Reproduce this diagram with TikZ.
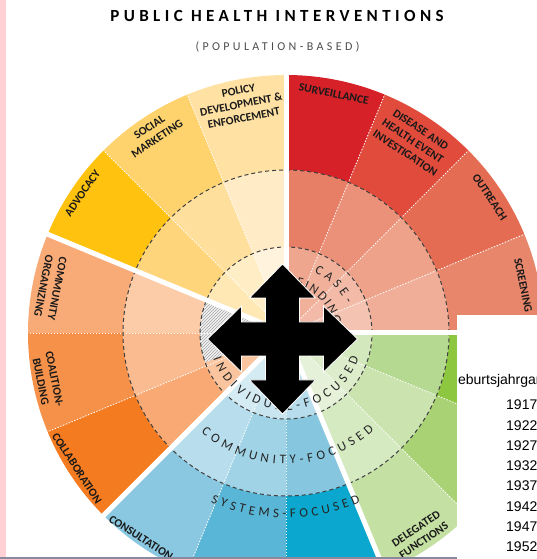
\documentclass[tikz,border=0pt]{standalone}
\usepackage{fontspec}
\setmainfont{Carlito}
\newfontfamily\tracked[LetterSpace=26]{Carlito}
\newfontfamily\widetracked[LetterSpace=28]{Carlito}
\newfontfamily\tablefont{Liberation Sans}
\usetikzlibrary{decorations.text,patterns}
\definecolor{screenedge}{HTML}{8A8A9E}
\definecolor{screenpink}{HTML}{FFD0D4}

\tikzset{
  seglabel/.style={font=\fontsize{11.5}{14}\selectfont\bfseries, text=black!90, align=center, inner sep=0pt},
  ringlabel/.style={decorate, decoration={text along path, text align={fit to path}, text color=black!85,
      text={|\fontsize{13}{15}\selectfont|#1}}},
  groupgap/.style={white, line width=5pt},
  wedgedots/.style={white, line width=0.9pt, dash pattern=on 1.2pt off 1.8pt},
  ringline/.style={black!75, line width=1pt, dash pattern=on 4pt off 3pt},
  yearrow/.style={font=\tablefont\fontsize{14}{16}\selectfont, anchor=base west, inner sep=0pt},
}

\begin{document}
\begin{tikzpicture}[x=1pt,y=1pt]
  \useasboundingbox (-286,-226) rectangle (251,333);
  \clip (-286,-226) rectangle (251,333);

  % title
  \node (title) at (-9,317) {\tracked\bfseries\fontsize{17}{20}\selectfont PUBLIC HEALTH INTERVENTIONS};
  \node (subtitle) at (-8.5,286) {\widetracked\fontsize{12}{14}\selectfont\color{black!70}(POPULATION-BASED)};

  % wedges: start angle / outer / middle / inner colour
  \foreach \a/\co/\cm/\ci in {90/D62128/E67F66/EFA68F, 67.5/E04B3B/EB9179/F1B09A,
      45/E46C52/EEA28A/F3BBA7, 22.5/E8866C/F0AE98/F4C3B1,
      0/8DC63F/B5D990/D3E8BC, -22.5/A8D274/CAE3AF/DDEDCC, -45/C4E0A2/D6EAC2/E5F1D8,
      -67.5/0BA7CE/86C7DF/B7DDEC, -90/5AB6D6/A0D3E6/C8E5F0, -112.5/89C8E0/B8DDEC/D4EBF4,
      225/F47B20/F9AA74/FAC59E, 202.5/F6914A/FABB90/FAC59E, 180/F8AA77/FCCBA7/FCD3B5,
      157.5/FFC20E/FED57A/FFE8B4, 135/FED36E/FFDF9C/FFEDC6, 112.5/FFE2A3/FFEBC5/FFF3DD}{
    \definecolor{outerc}{HTML}{\co}
    \definecolor{middlec}{HTML}{\cm}
    \definecolor{innerc}{HTML}{\ci}
    \fill[outerc] (\a:258) arc[start angle=\a, end angle=\a-22.5, radius=258]
      -- ({\a-22.5}:163) arc[start angle=\a-22.5, end angle=\a, radius=163] -- cycle;
    \fill[middlec] (\a:163) arc[start angle=\a, end angle=\a-22.5, radius=163]
      -- ({\a-22.5}:86) arc[start angle=\a-22.5, end angle=\a, radius=86] -- cycle;
    \fill[innerc] (0,0) -- (\a:86) arc[start angle=\a, end angle=\a-22.5, radius=86] -- cycle;
  }
  % hatched part of the inner disc
  \fill[black!5] (0,0) -- (157.5:86) arc[start angle=157.5, end angle=200, radius=86] -- cycle;
  \fill[pattern=north east lines, pattern color=black!35] (0,0) -- (157.5:86)
    arc[start angle=157.5, end angle=200, radius=86] -- cycle;

  \foreach \a in {67.5,45,22.5,-22.5,-45,-90,-112.5,202.5,180,135,112.5}
    \draw[wedgedots] (0,0) -- (\a:258);
  \draw[ringline] (0,0) circle[radius=86];
  \draw[ringline] (0,0) circle[radius=163];
  \foreach \a in {90,0,-67.5,225,157.5}
    \draw[groupgap] (0,0) -- (\a:275);

  % intervention labels
  \node[seglabel, rotate=-11.3] (surv) at (78.7:244) {SURVEILLANCE};
  \node[seglabel, rotate=-33.5] (disease) at (56.5:230) {DISEASE AND\\HEALTH EVENT\\INVESTIGATION};
  \node[seglabel, rotate=-56.3] (outreach) at (33.7:245) {OUTREACH};
  \node[seglabel, rotate=-78.6] (screen) at (11.4:242) {SCREENING};
  \node[seglabel, rotate=11.1] (policy) at (101.1:233) {POLICY\\DEVELOPMENT \&\\ENFORCEMENT};
  \node[seglabel, rotate=33.6] (social) at (123.6:240) {SOCIAL\\MARKETING};
  \node[seglabel, rotate=55.5] (advocacy) at (145.5:247) {ADVOCACY};
  \node[seglabel, rotate=-101] (organize) at (169:240) {COMMUNITY\\ORGANIZING};
  \node[seglabel, rotate=-78.8] (coalition) at (191.2:243) {COALITION-\\BUILDING};
  \node[seglabel, rotate=-57.1] (collab) at (212.9:249) {COLLABORATION};
  \node[seglabel, rotate=-33] (consult) at (234.7:251) {CONSULTATION};
  \node[seglabel, rotate=33.6] (delegated) at (-56.4:242) {DELEGATED\\FUNCTIONS};

  % level labels along the rings
  \path[ringlabel={CASE-}] (65:67) arc[start angle=65, end angle=26, radius=67];
  \path[ringlabel={FINDING}] (78:48) arc[start angle=78, end angle=10, radius=48];
  \path[ringlabel={INDIVIDUAL-FOCUSED}] (199:77) arc[start angle=199, end angle=341, radius=77];
  \path[ringlabel={COMMUNITY-FOCUSED}] (229.6:131) arc[start angle=229.6, end angle=312.2, radius=131];
  \path[ringlabel={SYSTEMS-FOCUSED}] (246:185) arc[start angle=246, end angle=293.7, radius=185];

  % move cursor
  \fill[black, draw=white, line width=0.8pt, shift={(-3.5,-6)}]
    (0,75) -- (33,41) -- (17,41) -- (17,17) -- (41,17) -- (41,33) -- (75,0)
    -- (41,-33) -- (41,-17) -- (17,-17) -- (17,-41) -- (33,-41) -- (0,-75)
    -- (-33,-41) -- (-17,-41) -- (-17,-17) -- (-41,-17) -- (-41,-33) -- (-75,0)
    -- (-41,33) -- (-41,17) -- (-17,17) -- (-17,41) -- (-33,41) -- cycle;

  % table window
  \begin{scope}
    \clip (171,-226) rectangle (251,18);
    \fill[white] (171,-226) rectangle (251,18);
    \node[yearrow] (head) at (161,-52) {Geburtsjahrgang};
    \foreach \yr [count=\i from 0] in {1917,1922,1927,1932,1937,1942,1947,1952}
      \node[yearrow] (yr\i) at (220,-77-20.2*\i) {\yr};
  \end{scope}

  % screen edges
  \fill[screenpink] (-286,-226) rectangle (-280,333);
  \fill[screenedge] (-286,-226) rectangle (171,-224);
\end{tikzpicture}
\end{document}
